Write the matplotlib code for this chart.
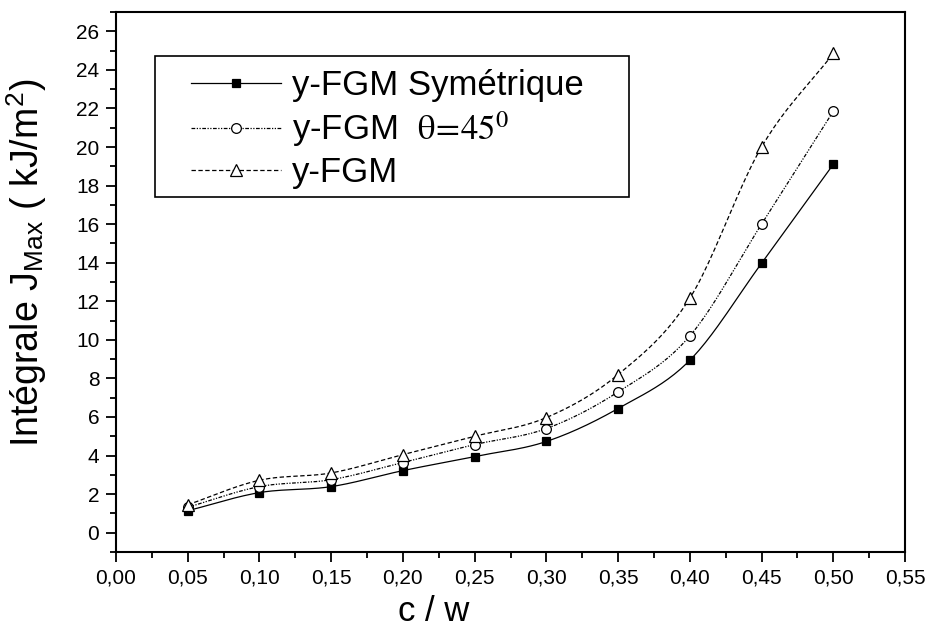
import numpy as np
import matplotlib
matplotlib.use("Agg")
import matplotlib.pyplot as plt
from matplotlib.ticker import MultipleLocator, FuncFormatter
from matplotlib.patches import Rectangle

plt.rcParams['font.family'] = ['Liberation Sans', 'DejaVu Sans']
plt.rcParams['mathtext.fontset'] = 'stix'

# data
cw = [0.05, 0.10, 0.15, 0.20, 0.25, 0.30, 0.35, 0.40, 0.45, 0.50]
j_sym = [1.14, 2.08, 2.39, 3.22, 3.95, 4.73, 6.44, 8.94, 13.97, 19.1]
j_45 = [1.32, 2.39, 2.75, 3.64, 4.57, 5.40, 7.30, 10.2, 16.0, 21.85]
j_fgm = [1.45, 2.72, 3.10, 4.05, 5.00, 5.97, 8.20, 12.16, 20.0, 24.85]


def smooth(x, y, n=24):
    # catmull-rom curve through the points, only for the drawn line
    x = np.asarray(x, float)
    y = np.asarray(y, float)
    px = np.concatenate([[2 * x[0] - x[1]], x, [2 * x[-1] - x[-2]]])
    py = np.concatenate([[2 * y[0] - y[1]], y, [2 * y[-1] - y[-2]]])
    t = np.linspace(0, 1, n)[:, None]
    xs, ys = [], []
    for i in range(1, len(px) - 2):
        for p, out in ((px, xs), (py, ys)):
            p0, p1, p2, p3 = p[i - 1], p[i], p[i + 1], p[i + 2]
            c = 0.5 * ((2 * p1) + (-p0 + p2) * t + (2 * p0 - 5 * p1 + 4 * p2 - p3) * t ** 2
                       + (-p0 + 3 * p1 - 3 * p2 + p3) * t ** 3)
            out.append(c.ravel())
    return np.concatenate(xs), np.concatenate(ys)


W, H = 930, 634
fig = plt.figure(figsize=(W / 100, H / 100), dpi=100)
ax = fig.add_axes([116 / W, 1 - 552 / H, 789 / W, 540 / H])

styles = [
    (j_sym, '-', 's', 'k', 6, 'y-FGM Symétrique'),
    (j_45, (0, (3, 1.2, 1, 1.2, 1, 1.2)), 'o', 'w', 7, r'y-FGM  $\mathrm{\theta}\!=\!45^{0}$'),
    (j_fgm, (0, (3.5, 2)), '^', 'w', 9, 'y-FGM'),
]
for vals, ls, mk, fc, ms, lab in styles:
    sx, sy = smooth(cw, vals)
    ax.plot(sx, sy, color='k', ls=ls, lw=0.9)
    ax.plot(cw, vals, ls='none', marker=mk, mfc=fc, mec='k', ms=ms, mew=0.9)
    ax.plot([], [], color='k', ls=ls, lw=0.9, marker=mk, mfc=fc, mec='k',
            ms=ms, mew=0.9, label=lab)

ax.set_xlim(0, 0.55)
ax.set_ylim(-1, 27)
ax.xaxis.set_major_locator(MultipleLocator(0.05))
ax.xaxis.set_minor_locator(MultipleLocator(0.025))
ax.yaxis.set_major_locator(MultipleLocator(2))
ax.yaxis.set_minor_locator(MultipleLocator(1))
ax.xaxis.set_major_formatter(FuncFormatter(lambda v, p: ('%.2f' % v).replace('.', ',')))
ax.yaxis.set_major_formatter(FuncFormatter(lambda v, p: '%d' % round(v)))

ax.tick_params(which='both', direction='out', width=1.3, labelsize=15, top=False, right=False)
ax.tick_params(which='major', length=7, pad=5)
ax.tick_params(which='minor', length=4)
for s in ax.spines.values():
    s.set_linewidth(1.5)

ax.set_xlabel('c / w', fontsize=25)
ax.xaxis.set_label_coords((434 - 116) / 789, -0.08)
ax.set_ylabel(r'Intégrale J$_{\mathregular{Max}}$ ( kJ/m$^{\mathregular{2}}$)', fontsize=27)
ax.yaxis.set_label_coords(-0.085, 0.535)

# legend box
ax.add_patch(Rectangle(((155 - 116) / 789, (552 - 197) / 540), (629 - 155) / 789, (197 - 56) / 540,
                       transform=ax.transAxes, fill=False, ec='k', lw=1.2, zorder=5))
ax.legend(loc='upper left', bbox_to_anchor=((191 - 116) / 789, (552 - 69) / 540),
          borderaxespad=0, borderpad=0, fontsize=25, frameon=False,
          handlelength=2.6, handletextpad=0.3, labelspacing=0.2)

fig.savefig('out.png', dpi=100)
